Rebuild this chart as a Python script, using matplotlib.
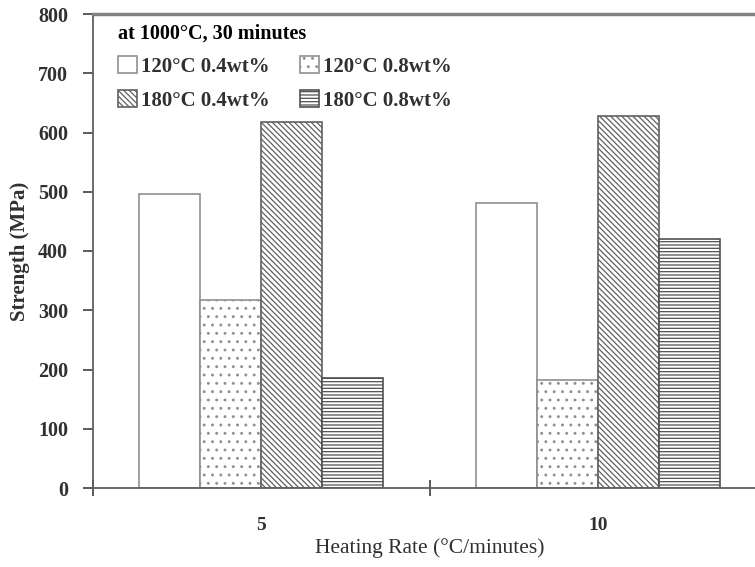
import numpy as np
import matplotlib
matplotlib.use("Agg")
import matplotlib.pyplot as plt

rates = ["5", "10"]
series = ["120°C 0.4wt%", "120°C 0.8wt%", "180°C 0.4wt%", "180°C 0.8wt%"]
strength = [
    [496, 481],
    [317, 182],
    [618, 628],
    [186, 420],
]
hatches = ["", "..", "\\\\\\\\\\\\", "-----"]
edges = ["#909090", "#909090", "#606060", "#505050"]

plt.rcParams['font.family'] = ['Liberation Serif', 'DejaVu Serif']
plt.rcParams['hatch.linewidth'] = 0.9

fig = plt.figure(figsize=(7.55, 5.67), dpi=100)
ax = fig.add_axes([93 / 755, 79 / 567, 673 / 755, 474 / 567])

x = np.arange(len(rates)) + 0.5
w = 0.181
bars = []
for i, (name, vals) in enumerate(zip(series, strength)):
    b = ax.bar(x + (i - 1.5) * w, vals, w, color="white", edgecolor=edges[i],
               hatch=hatches[i], linewidth=1.2, label=name)
    bars.append(b)

ax.set_xlim(0, 2)
ax.set_ylim(0, 800)
ax.set_yticks(range(0, 801, 100))
ax.set_xticks([0, 1, 2])
ax.set_xticklabels([])
ax.set_xticks(x, minor=True)
ax.set_xticklabels(rates, minor=True)
ax.tick_params(axis='x', which='minor', length=0, pad=21, labelsize=14)
ax.tick_params(axis='x', which='major', direction='inout', length=12, width=1.2, color="#404040")
ax.tick_params(axis='y', direction='out', length=7, width=1.2, color="#404040",
               labelsize=14.5, pad=11)
for lab in ax.get_yticklabels() + ax.get_xticklabels(minor=True):
    lab.set_fontweight('bold')
    lab.set_color('#303030')

for s in ax.spines.values():
    s.set_color("#606060")
    s.set_linewidth(1.3)
ax.spines['top'].set_linewidth(2.5)
ax.spines['top'].set_color("#808080")

ax.set_ylabel("Strength (MPa)", fontsize=15, fontweight='bold', color='#303030', labelpad=6)
ax.set_xlabel("Heating Rate (°C/minutes)", fontsize=15.5, color='#303030', labelpad=3)

order = [0, 2, 1, 3]
leg = ax.legend([bars[k] for k in order], [series[k] for k in order],
                loc='upper left', bbox_to_anchor=(0.01, 1.02), ncol=2, frameon=False,
                title="at 1000°C, 30 minutes", alignment='left',
                prop={'size': 15, 'weight': 'bold'}, handlelength=0.9, handleheight=0.9,
                handletextpad=0.2, columnspacing=1.45, labelspacing=0.62)
leg.get_title().set_fontsize(14.5)
leg.get_title().set_fontweight('bold')
for t in leg.get_texts():
    t.set_color('#303030')

fig.savefig("out.png", dpi=100)
